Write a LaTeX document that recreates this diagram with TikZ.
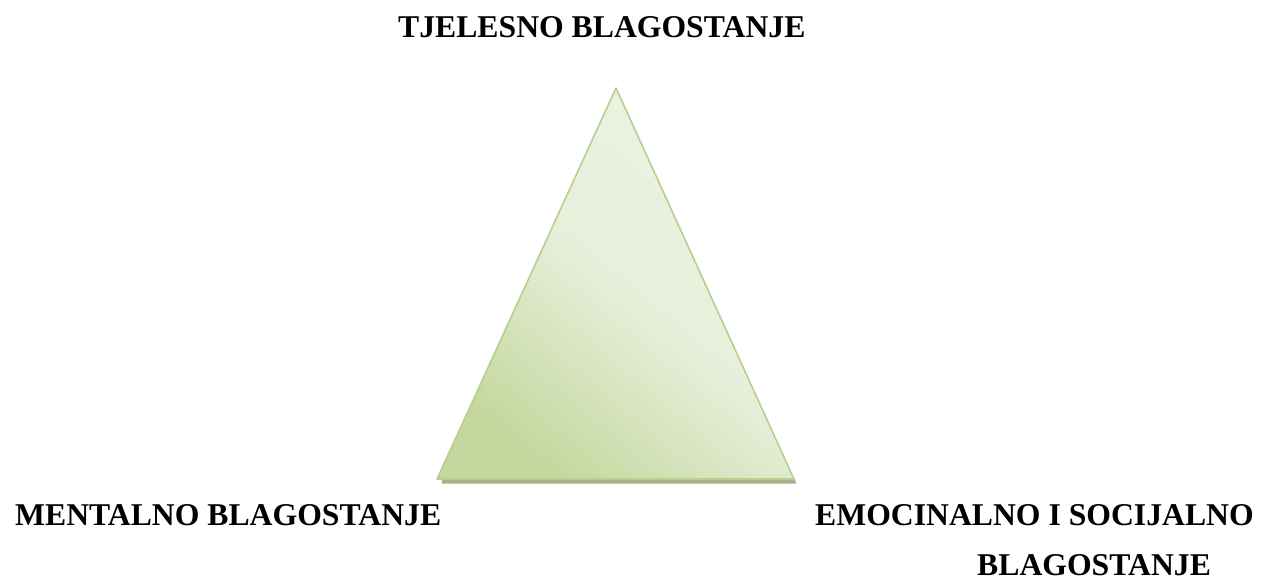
\documentclass[tikz,border=0pt]{standalone}
\usepackage{fontspec}
\setmainfont{Liberation Serif}
\definecolor{triDark}{RGB}{196,215,158}
\definecolor{triLight}{RGB}{236,242,226}
\definecolor{triEdge}{RGB}{183,207,143}
\definecolor{triShadow}{RGB}{164,178,138}
\tikzset{
  lbl/.style={font=\fontsize{31.7}{38}\selectfont\bfseries, inner sep=0pt, anchor=base west},
}
\begin{document}
\begin{tikzpicture}[x=1pt,y=1pt]
\useasboundingbox (0,0) rectangle (1263,-582);
% triangle corners
\coordinate (apex) at (616,-88);
\coordinate (bl) at (437,-479);
\coordinate (br) at (794,-479);
% shadow strip under the base
\fill[triShadow] ([shift={(5,0)}]bl) -- ([shift={(1,0)}]br) -- ([shift={(2,-4.5)}]br) -- ([shift={(5,-4.5)}]bl) -- cycle;
% triangle
\shade[top color=triLight, bottom color=triDark, middle color=triLight!88!triDark, shading angle=-40]
  (apex) -- (bl) -- (br) -- cycle;
\draw[triEdge, line width=1.6pt, line join=round] (apex) -- (bl) -- (br) -- cycle;
% labels
\node[lbl] (top) at (398,-37) {TJELESNO BLAGOSTANJE};
\node[lbl] (left) at (15,-525) {MENTALNO BLAGOSTANJE};
\node[lbl] (right) at (815,-525) {EMOCINALNO I SOCIJALNO};
\node[lbl] (right2) at (977,-575) {BLAGOSTANJE};
\end{tikzpicture}
\end{document}
